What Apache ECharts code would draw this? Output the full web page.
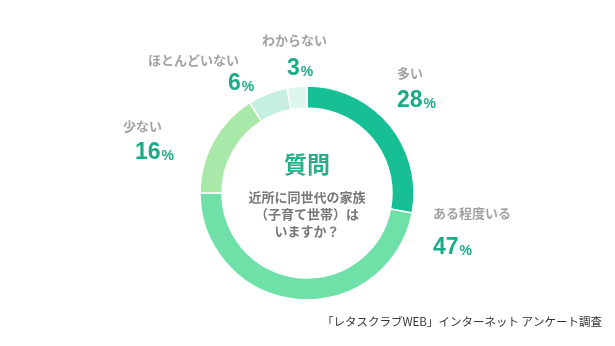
<!DOCTYPE html>
<html><head><meta charset="utf-8">
<script src="https://cdn.jsdelivr.net/npm/echarts@6/dist/echarts.min.js"></script>
<style>html,body{margin:0;padding:0;background:#fff}#c{width:615px;height:346px}</style>
</head><body><div id="c"></div>
<script>
const categories = ['多い', 'ある程度いる', '少ない', 'ほとんどいない', 'わからない'];
const values = [28, 47, 16, 6, 3];
const colors = ['#17bf94', '#6fe0a8', '#a8e8a8', '#c6efdf', '#ddf6ee'];
const centerTitle = '質問';
const centerLines = ['近所に同世代の家族', '（子育て世帯）は', 'いますか？'];
const sourceText = '「レタスクラブWEB」インターネット アンケート調査';

// label layout: top-left of name, name line height, value indent
const labelPos = [[397, 58], [433, 191], [123, 112], [148, 49], [262, 24]];
const nameLine = [30, 44, 28, 22, 32];
const valueIndent = [0, 0, 12, 80, 25];

const FONT = '"Noto Sans CJK JP", sans-serif';
const NUMFONT = '"Liberation Sans", Arial, sans-serif';
const rich = {};
categories.forEach((c, i) => {
  rich['n' + i] = {fontSize: 13, fontWeight: 'bold', color: '#a2a2a2', fontFamily: FONT, lineHeight: nameLine[i]};
  rich['v' + i] = {fontSize: 23, fontWeight: 'bold', color: '#1cab88', fontFamily: NUMFONT, lineHeight: 26, padding: [0, 0, 0, valueIndent[i]]};
  rich['p' + i] = {fontSize: 14, fontWeight: 'bold', color: '#1cab88', fontFamily: NUMFONT, lineHeight: 26, padding: [6, 0, 0, 1]};
});

const chart = echarts.init(document.getElementById('c'), null, {renderer: 'canvas'});
chart.setOption({
  backgroundColor: '#fff',
  animation: false,
  series: [{
    type: 'pie',
    center: [307, 193],
    radius: [85, 107],
    startAngle: 90,
    clockwise: true,
    avoidLabelOverlap: false,
    itemStyle: {borderColor: '#fff', borderWidth: 1.5},
    labelLine: {show: false},
    label: {
      show: true,
      position: 'outside',
      fontFamily: FONT,
      align: 'left',
      formatter: p => '{n' + p.dataIndex + '|' + p.name + '}\n{v' + p.dataIndex + '|' + p.value + '}{p' + p.dataIndex + '|%}',
      rich: rich
    },
    labelLayout: p => ({x: labelPos[p.dataIndex][0], y: labelPos[p.dataIndex][1], align: 'left', verticalAlign: 'top'}),
    data: categories.map((c, i) => ({name: c, value: values[i], itemStyle: {color: colors[i]}}))
  }],
  graphic: [
    {type: 'text', x: 307, y: 153, style: {text: centerTitle, font: 'bold 23px ' + FONT, fill: '#2aae8a', align: 'center'}},
    {type: 'text', x: 307, y: 189, style: {text: centerLines.join('\n'), font: 'bold 13px ' + FONT, fill: '#777', align: 'center', lineHeight: 17}},
    {type: 'text', right: 13, top: 316, style: {text: sourceText, font: '11.5px ' + FONT, fill: '#333'}}
  ]
});
</script></body></html>
